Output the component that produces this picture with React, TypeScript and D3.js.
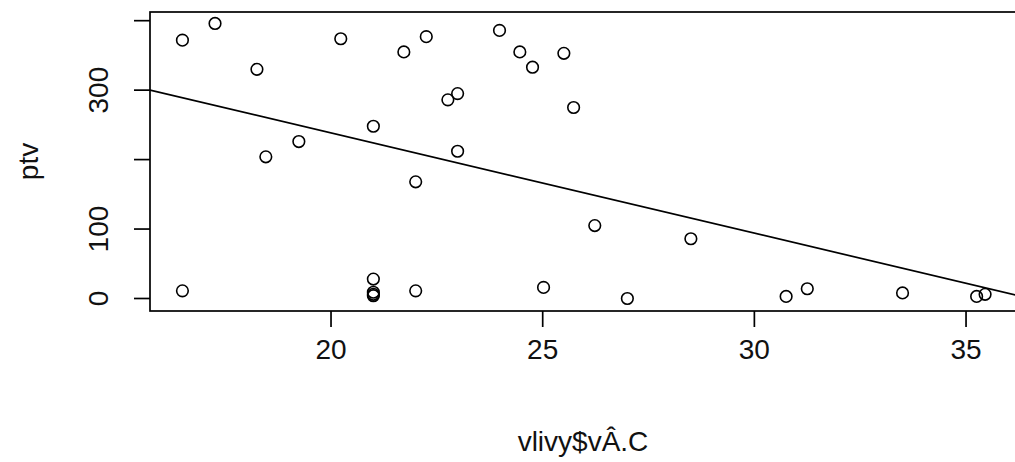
import * as d3 from "d3";
import { useEffect, useRef } from "react";

// teplota (vlivy$vÂ.C) a ptv
const tempValues = [
  16.49, 17.26, 18.25, 20.23, 21.72, 22.25, 21.0, 19.24, 18.46, 22.0, 16.49,
  21.0, 21.0, 21.0, 21.0, 22.0, 23.98, 24.46, 24.76, 25.5, 22.99, 22.76, 25.73,
  22.99, 26.23, 28.5, 25.02, 27.0, 30.75, 31.25, 33.5, 35.25, 35.45,
];
const ptvValues = [
  372, 396, 330, 374, 355, 377, 248, 226, 204, 168, 11,
  28, 9, 6, 4, 11, 386, 355, 333, 353, 295, 286, 275,
  212, 105, 86, 16, 0, 3, 14, 8, 3, 6,
];

const xTicks = [20, 25, 30, 35];
const yTicks = [0, 100, 200, 300, 400];
const yTickLabels = [0, 100, 300]; // R vynechá popisky, které by se překrývaly

// abline(lm(ptv ~ vlivy$vÂ.C))
const fitIntercept = 527.0;
const fitSlope = -14.43;

const xTitle = "vlivy$vÂ.C";
const yTitle = "ptv";

const W = 1015;
const H = 462;
const FONT = "'Liberation Sans', Arial, sans-serif";

const redraw = (container) => {
  const svg = d3.select(container.current);
  svg.selectAll("*").remove();

  const box = { x1: 150, y1: 12, x2: 1016, y2: 311 };

  const x = d3.scaleLinear().domain([15.724, 36.18]).range([box.x1, box.x2]);
  const y = d3.scaleLinear().domain([-18, 412.5]).range([box.y2, box.y1]);

  svg.append("defs").append("clipPath").attr("id", "plotclip")
    .append("rect")
    .attr("x", box.x1).attr("y", box.y1)
    .attr("width", box.x2 - box.x1).attr("height", box.y2 - box.y1);

  // regresní přímka
  const xd = x.domain();
  svg.append("line")
    .attr("clip-path", "url(#plotclip)")
    .attr("x1", x(xd[0])).attr("y1", y(fitIntercept + fitSlope * xd[0]))
    .attr("x2", x(xd[1])).attr("y2", y(fitIntercept + fitSlope * xd[1]))
    .attr("stroke", "#000")
    .attr("stroke-width", 1.7);

  // body
  const points = tempValues.map((t, i) => ({ t, p: ptvValues[i] }));
  svg.append("g").selectAll("circle").data(points).enter().append("circle")
    .attr("cx", d => x(d.t))
    .attr("cy", d => y(d.p))
    .attr("r", 5.8)
    .attr("fill", "none")
    .attr("stroke", "#000")
    .attr("stroke-width", 1.6);

  // rámeček
  svg.append("rect")
    .attr("x", box.x1).attr("y", box.y1)
    .attr("width", box.x2 - box.x1).attr("height", box.y2 - box.y1)
    .attr("fill", "none")
    .attr("stroke", "#000")
    .attr("stroke-width", 1.7);

  const tickLen = 16;

  // osa x
  const gx = svg.append("g");
  gx.selectAll("line").data(xTicks).enter().append("line")
    .attr("x1", d => x(d)).attr("x2", d => x(d))
    .attr("y1", box.y2).attr("y2", box.y2 + tickLen)
    .attr("stroke", "#000").attr("stroke-width", 1.7);
  gx.selectAll("text").data(xTicks).enter().append("text")
    .attr("x", d => x(d))
    .attr("y", 359)
    .attr("text-anchor", "middle")
    .attr("font-family", FONT)
    .attr("font-size", 28)
    .attr("fill", "#111")
    .text(d => d);

  // osa y
  const gy = svg.append("g");
  gy.selectAll("line").data(yTicks).enter().append("line")
    .attr("x1", box.x1 - tickLen).attr("x2", box.x1)
    .attr("y1", d => y(d)).attr("y2", d => y(d))
    .attr("stroke", "#000").attr("stroke-width", 1.7);
  gy.selectAll("text").data(yTickLabels).enter().append("text")
    .attr("transform", d => `translate(108,${y(d)}) rotate(-90)`)
    .attr("text-anchor", "middle")
    .attr("font-family", FONT)
    .attr("font-size", 28)
    .attr("fill", "#111")
    .text(d => d);

  // popisky os
  svg.append("text")
    .attr("x", (box.x1 + box.x2) / 2)
    .attr("y", 451)
    .attr("text-anchor", "middle")
    .attr("font-family", FONT)
    .attr("font-size", 28)
    .attr("fill", "#111")
    .text(xTitle);

  svg.append("text")
    .attr("transform", `translate(38,${(box.y1 + box.y2) / 2}) rotate(-90)`)
    .attr("text-anchor", "middle")
    .attr("font-family", FONT)
    .attr("font-size", 28)
    .attr("fill", "#111")
    .text(yTitle);
};

export default function App() {
  const container = useRef(null);

  useEffect(() => {
    redraw(container);
  }, []);

  return (
    <svg
      ref={container}
      width={W}
      height={H}
      style={{ position: "absolute", left: 0, top: 0, background: "#fff" }}
    />
  );
}
